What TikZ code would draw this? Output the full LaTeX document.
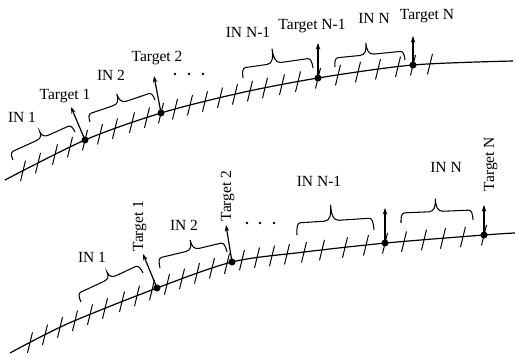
\documentclass[tikz,border=0pt]{standalone}
\usepackage{fontspec}
\setmainfont{Liberation Serif}
\usetikzlibrary{calc,intersections,arrows.meta}
\newcommand{\ubrace}[5]{% start, end, tip fraction, tip height, hook height
  \draw[brc] let \p1=(#1), \p2=(#2),
      \n1={atan2(\y2-\y1,\x2-\x1)},
      \n2={veclen(\x2-\x1,\y2-\y1)} in
    [shift={(\p1)}, rotate=\n1]
    (0pt,0pt) .. controls (0pt,{0.6*#5pt}) and (1pt,{#5pt}) .. (4pt,{#5pt})
    -- ({#3*\n2-7pt},{#5pt})
    .. controls ({#3*\n2-1.5pt},{#5pt}) and ({#3*\n2+0pt},{#4pt-0.6*(#4pt-#5pt)}) .. ({#3*\n2+0pt},{#4pt})
    .. controls ({#3*\n2+0pt},{#4pt-0.6*(#4pt-#5pt)}) and ({#3*\n2+1.5pt},{#5pt}) .. ({#3*\n2+7pt},{#5pt})
    -- ({\n2-4pt},{#5pt}) .. controls ({\n2-1pt},{#5pt}) and ({\n2+0pt},{0.6*#5pt}) .. ({\n2+0pt},0pt);
}
\begin{document}
\begin{tikzpicture}[x=1pt,y=-1pt,
  curve/.style={line width=1.2pt},
  tickmark/.style={line width=1pt},
  brc/.style={line width=1.05pt},
  arr/.style={line width=1.2pt,-{Stealth[length=6.5pt,width=4.5pt]}},
  dot/.style={circle,fill=black,inner sep=0pt,minimum size=7pt},
  edot/.style={circle,fill=black,inner sep=0pt,minimum size=2.8pt},
  lbl/.style={inner sep=0pt,anchor=base,font=\fontsize{15.5}{18}\selectfont}]
\useasboundingbox (0,0) rectangle (515,358);

% ---------------- top row ----------------
\draw[curve, name path=topc] plot[smooth] coordinates {(5,180) (85,140) (161,113) (240,93) (318,78) (413,65) (513,61)};
\foreach \x in {23,38,55,70,85,100,115,132,147,161,175,190,205,220,235,250,265,282,298,318,338,358,378,398,413,430} {
  \path[name path=vl] (\x,0) -- (\x,358);
  \draw[tickmark, name intersections={of=topc and vl, by={tp}}] ($(tp)+(-2.5,10.5)$) -- ($(tp)+(2.5,-10)$);
}
\node[dot] (td1) at (85,140) {};
\node[dot] (td2) at (161,113) {};
\node[dot] (td3) at (318,78) {};
\node[dot] (td4) at (413,65) {};
\coordinate (ta1) at (71,107);
\coordinate (ta2) at (154,76);
\coordinate (ta3) at (318,43);
\coordinate (ta4) at (413,36);
\draw[arr] (td1.center) -- (ta1);
\draw[arr] (td2.center) -- (ta2);
\draw[arr] (td3.center) -- (ta3);
\draw[arr] (td4.center) -- (ta4);

\coordinate (tb1s) at (13,160); \coordinate (tb1e) at (75,132);
\coordinate (tb2s) at (90,122); \coordinate (tb2e) at (155,100);
\coordinate (tb3s) at (243,78); \coordinate (tb3e) at (313,68);
\coordinate (tb4s) at (335,67); \coordinate (tb4e) at (405,60);
\ubrace{tb1s}{tb1e}{0.53}{15}{8}
\ubrace{tb2s}{tb2e}{0.50}{18}{8}
\ubrace{tb3s}{tb3e}{0.465}{25}{10}
\ubrace{tb4s}{tb4e}{0.47}{21}{9}

\node[lbl] (tin1) at (22,123) {IN 1};
\node[lbl] (ttg1) at (65,100) {Target 1};
\node[lbl] (tin2) at (111,81) {IN 2};
\node[lbl] (ttg2) at (157,62) {Target 2};
\node[lbl] (tinn1) at (248,38) {IN N-1};
\node[lbl] (ttgn1) at (312,30) {Target N-1};
\node[lbl] (tinn) at (374,24) {IN N};
\node[lbl] (ttgn) at (427,20) {Target N};
\node[edot] (te1) at (175,74) {};
\node[edot] (te2) at (189,74) {};
\node[edot] (te3) at (203,74) {};

% ---------------- bottom row ----------------
\draw[curve, name path=botc] plot[smooth] coordinates {(10,353) (67,324) (157,288) (232,262) (300,252.5) (386,243) (484,235) (515,233)};
\foreach \x in {30,45,60,75,90,105,122,137,152,167,182,197,212,227,242,257,272,287,304,322,345,366,385,404,424,443,463,484} {
  \path[name path=vl] (\x,0) -- (\x,358);
  \draw[tickmark, name intersections={of=botc and vl, by={bp}}] ($(bp)+(-2.5,10.5)$) -- ($(bp)+(2.5,-10)$);
}
\node[dot] (bd1) at (157,288) {};
\node[dot] (bd2) at (232,262) {};
\node[dot] (bd3) at (385,243) {};
\node[dot] (bd4) at (484,235) {};
\coordinate (ba1) at (143,254);
\coordinate (ba2) at (226,225);
\coordinate (ba3) at (385,208);
\coordinate (ba4) at (484,205);
\draw[arr] (bd1.center) -- (ba1);
\draw[arr] (bd2.center) -- (ba2);
\draw[arr] (bd3.center) -- (ba3);
\draw[arr] (bd4.center) -- (ba4);

\coordinate (bb1s) at (81,302); \coordinate (bb1e) at (143,273);
\coordinate (bb2s) at (160,268); \coordinate (bb2e) at (227,252);
\coordinate (bb3s) at (297,235); \coordinate (bb3e) at (374,230);
\coordinate (bb4s) at (401,223); \coordinate (bb4e) at (473,220);
\ubrace{bb1s}{bb1e}{0.53}{16}{9}
\ubrace{bb2s}{bb2e}{0.52}{20}{10}
\ubrace{bb3s}{bb3e}{0.46}{28}{12}
\ubrace{bb4s}{bb4e}{0.49}{23}{10}

\node[lbl] (bin1) at (92,263) {IN 1};
\node[lbl, rotate=90] (btg1) at (143,226) {Target 1};
\node[lbl] (bin2) at (184,231) {IN 2};
\node[lbl, rotate=90] (btg2) at (231,196) {Target 2};
\node[lbl] (binn1) at (319,187) {IN N-1};
\node[lbl] (binn) at (446,173) {IN N};
\node[lbl, rotate=90] (btgn) at (494,164) {Target N};
\node[edot] (be1) at (247,223) {};
\node[edot] (be2) at (260,223) {};
\node[edot] (be3) at (274,223) {};
\end{tikzpicture}
\end{document}
